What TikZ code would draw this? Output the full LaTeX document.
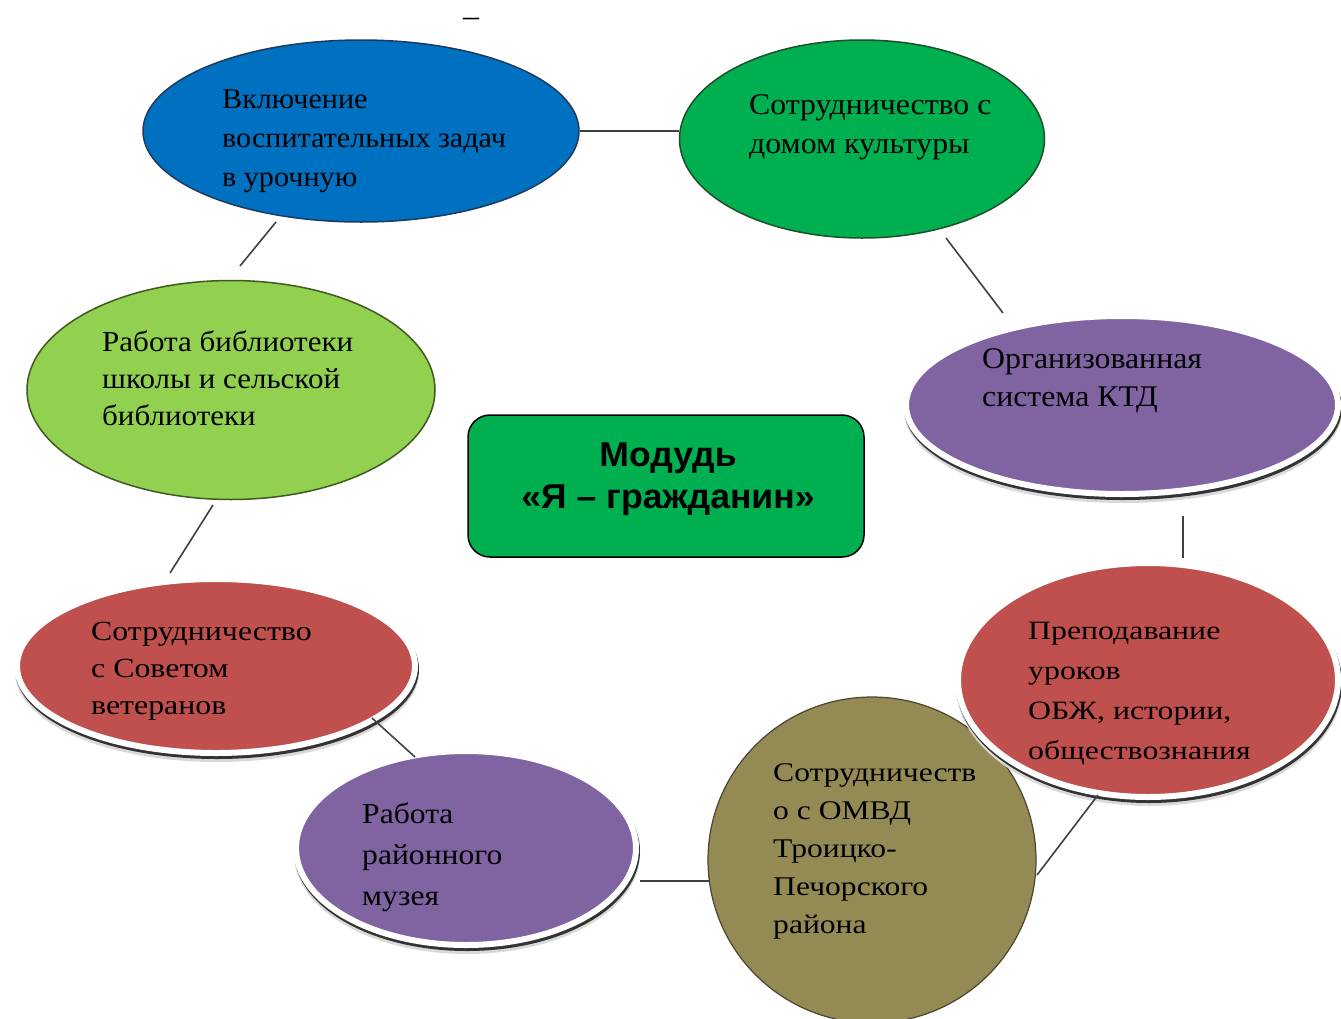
\documentclass[tikz,border=0pt]{standalone}
\usepackage{fontspec}
\setmainfont{Liberation Serif}
\newfontfamily\boxfont{Liberation Sans}
\usetikzlibrary{shapes.geometric,shadows}
\definecolor{cblue}{HTML}{0070C0}
\definecolor{cblueline}{HTML}{1F3A5F}
\definecolor{cgreen}{HTML}{00B050}
\definecolor{cgreenline}{HTML}{1F4F2A}
\definecolor{clgreen}{HTML}{92D050}
\definecolor{clgreenline}{HTML}{3F5A20}
\definecolor{cpurple}{HTML}{8064A2}
\definecolor{cred}{HTML}{C0504D}
\definecolor{colive}{HTML}{948A54}
\definecolor{coliveline}{HTML}{4A4530}
\definecolor{clink}{HTML}{404040}
\newcommand\ovfont[3]{\fontsize{#1}{#2}\selectfont\addfontfeature{FakeStretch=#3}}
\newcommand\fls{\rule{0pt}{.7em}}
\begin{document}
\begin{tikzpicture}[x=1pt,y=-1pt,
  oval/.style={ellipse, inner sep=0pt, line width=1.5pt},
  halo/.style={ellipse, inner sep=0pt, draw=white, line width=6pt,
    drop shadow={shadow xshift=1pt, shadow yshift=-6pt, fill=black!15, draw=black!15, line width=6pt, opacity=1},
    drop shadow={shadow xshift=1pt, shadow yshift=-3pt, fill=black!80, draw=black!80, line width=6pt, opacity=1}},
  tx/.style={anchor=north west, inner sep=0pt, align=left, text=black},
  link/.style={draw=clink, line width=1.6pt}]
\useasboundingbox (0,0) rectangle (1341,1018);
\fill[white] (0,0) rectangle (1341,1018);

% ellipses
\node[oval, fill=cblue, draw=cblueline, minimum width=436pt, minimum height=182pt] (b) at (361,131) {};
\node[oval, fill=cgreen, draw=cgreenline, minimum width=365pt, minimum height=198pt] (g) at (862,139) {};
\node[oval, fill=clgreen, draw=clgreenline, minimum width=408pt, minimum height=219pt] (lg) at (231,390) {};
\node[halo, fill=cpurple, minimum width=432pt, minimum height=178pt] (k) at (1122,405) {};
\node[halo, fill=cred, minimum width=398pt, minimum height=174pt] (rl) at (216,666) {};
\node[halo, fill=cpurple, minimum width=340pt, minimum height=194pt] (m) at (466,848) {};
\node[oval, fill=colive, draw=coliveline, line width=1.2pt, minimum width=328pt, minimum height=326pt] (o) at (872,860) {};
\node[halo, fill=cred, minimum width=380pt, minimum height=234pt] (rr) at (1148,680) {};

% central box
\node[draw=black, line width=1.5pt, fill=cgreen, rounded corners=22pt, minimum width=396pt, minimum height=142pt] (c) at (666,486) {};
\node[anchor=north, inner sep=0pt, align=center, font={\boxfont\bfseries\fontsize{34.5}{42}\selectfont\addfontfeature{FakeStretch=1.03}}] (ct) at (668,441) {\rule{0pt}{.72em}Модудь\\«Я – гражданин»};

% texts
\node[tx, font={\ovfont{28.7}{39}{1.05}}] (tb) at (222,88) {\fls Включение\\воспитательных задач\\в урочную};
\node[tx, font={\ovfont{30}{39}{1.06}}] (tg) at (749,93) {\fls Сотрудничество с\\домом культуры};
\node[tx, font={\ovfont{30}{38}{1.06}}] (tk) at (982,347) {\fls Организованная\\система КТД};
\node[tx, font={\ovfont{29}{37}{1.07}}] (tl) at (102,331) {\fls Работа библиотеки\\школы и сельской\\библиотеки};
\node[tx, font={\ovfont{27.7}{37}{1.15}}] (trl) at (91,621) {\fls Сотрудничество\\с Советом\\ветеранов};
\node[tx, font={\ovfont{26.5}{40}{1.2}}] (trr) at (1028,621) {\fls Преподавание\\уроков\\ОБЖ, истории,\\обществознания};
\node[tx, font={\ovfont{29}{41}{1.09}}] (tm) at (362,803) {\fls Работа\\районного\\музея};
\node[tx, font={\ovfont{27}{38}{1.17}}] (to) at (773,762) {\fls Сотрудничеств\\о с ОМВД\\Троицко-\\Печорского\\района};

\node[anchor=base, inner sep=0pt, font={\fontsize{32}{36}\selectfont}] (dash) at (471,26) {–};

% connectors
\coordinate (b1) at (276,222); \coordinate (lg1) at (240,266);
\coordinate (g1) at (946,238); \coordinate (k1) at (1003,313);
\coordinate (k2) at (1183,516); \coordinate (rr1) at (1183,558);
\coordinate (lg2) at (213,505); \coordinate (rl1) at (170,573);
\coordinate (rl2) at (372,718); \coordinate (m1) at (415,757);
\coordinate (m2) at (640,881); \coordinate (o1) at (710,881);
\coordinate (o2) at (1037,875); \coordinate (rr2) at (1098,795);
\draw[link] (b.east) -- (b.east -| g.west);
\draw[link] (b1) -- (lg1);
\draw[link] (g1) -- (k1);
\draw[link] (k2) -- (rr1);
\draw[link] (lg2) -- (rl1);
\draw[link] (rl2) -- (m1);
\draw[link] (m2) -- (o1);
\draw[link] (o2) -- (rr2);
\end{tikzpicture}
\end{document}
